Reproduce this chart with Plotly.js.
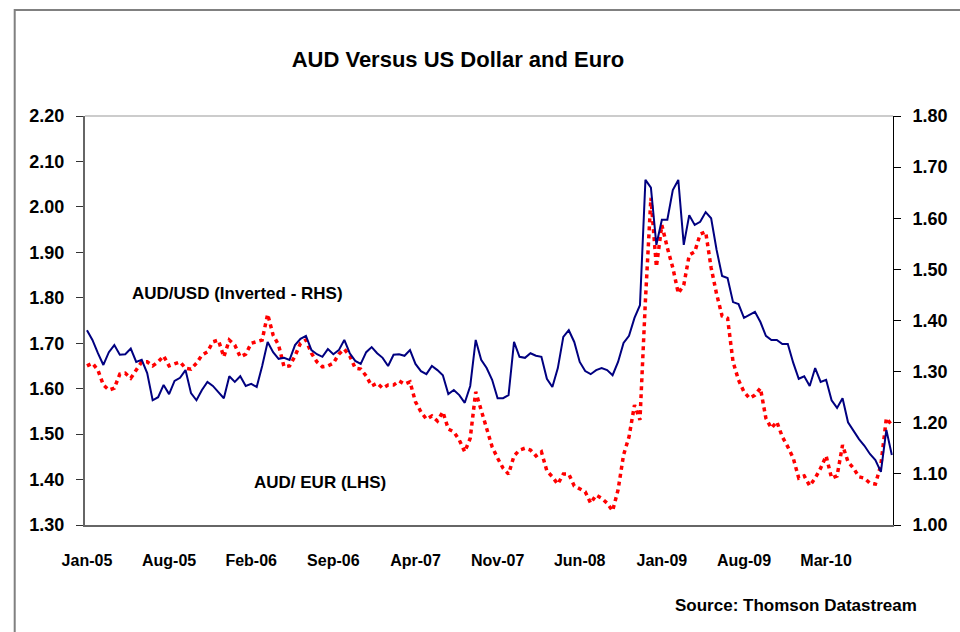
<!DOCTYPE html>
<html>
<head>
<meta charset="utf-8">
<script src="https://cdn.plot.ly/plotly-3.0.1.min.js"></script>
<style>
  html, body { margin: 0; padding: 0; background: #fff; }
  #chart { width: 960px; height: 632px; }
</style>
</head>
<body>
<div id="chart"></div>
<script>
// Sampled every 14 days from the first observation
const startDate = '2005-01-03';
const stepDays = 14;

// AUD/USD inverted (right axis)
const audUsdInverted = [
    1.381, 1.362, 1.336, 1.313, 1.338, 1.352, 1.333, 1.334, 1.345, 1.319,
    1.323, 1.297, 1.244, 1.250, 1.274, 1.256, 1.282, 1.288, 1.303, 1.258,
    1.244, 1.264, 1.280, 1.272, 1.260, 1.248, 1.291, 1.280, 1.291, 1.272,
    1.276, 1.270, 1.311, 1.358, 1.338, 1.325, 1.327, 1.323, 1.352, 1.364,
    1.370, 1.342, 1.334, 1.329, 1.344, 1.334, 1.342, 1.362, 1.336, 1.321,
    1.315, 1.338, 1.348, 1.336, 1.327, 1.311, 1.333, 1.334, 1.331, 1.342,
    1.315, 1.301, 1.295, 1.311, 1.303, 1.293, 1.256, 1.264, 1.254, 1.239,
    1.272, 1.362, 1.323, 1.307, 1.284, 1.248, 1.248, 1.254, 1.358, 1.329,
    1.327, 1.336, 1.331, 1.329, 1.286, 1.270, 1.307, 1.368, 1.381, 1.358,
    1.319, 1.301, 1.295, 1.303, 1.307, 1.303, 1.293, 1.319, 1.356, 1.370,
    1.405, 1.430, 1.675, 1.660, 1.548, 1.597, 1.597, 1.655, 1.675, 1.548,
    1.606, 1.587, 1.593, 1.612, 1.600, 1.538, 1.487, 1.483, 1.436, 1.432,
    1.405, 1.411, 1.417, 1.397, 1.370, 1.362, 1.362, 1.354, 1.354, 1.317,
    1.286, 1.291, 1.272, 1.307, 1.280, 1.284, 1.244, 1.229, 1.248, 1.201,
    1.184, 1.168, 1.155, 1.139, 1.127, 1.104, 1.186, 1.137
];

// AUD per EUR (left axis)
const audEur = [
    1.650, 1.656, 1.641, 1.608, 1.597, 1.601, 1.632, 1.634, 1.623, 1.641,
    1.659, 1.659, 1.650, 1.659, 1.672, 1.650, 1.654, 1.659, 1.645, 1.643,
    1.656, 1.674, 1.681, 1.703, 1.707, 1.670, 1.707, 1.696, 1.670, 1.676,
    1.700, 1.703, 1.707, 1.764, 1.718, 1.696, 1.648, 1.650, 1.672, 1.700,
    1.707, 1.678, 1.659, 1.648, 1.650, 1.656, 1.676, 1.687, 1.672, 1.645,
    1.643, 1.628, 1.606, 1.612, 1.601, 1.608, 1.608, 1.617, 1.610, 1.615,
    1.571, 1.549, 1.533, 1.540, 1.529, 1.549, 1.511, 1.505, 1.487, 1.461,
    1.491, 1.593, 1.553, 1.518, 1.472, 1.447, 1.425, 1.412, 1.452, 1.465,
    1.469, 1.465, 1.452, 1.461, 1.419, 1.406, 1.390, 1.412, 1.412, 1.386,
    1.379, 1.373, 1.348, 1.366, 1.359, 1.348, 1.331, 1.377, 1.454, 1.494,
    1.564, 1.531, 1.795, 2.020, 1.868, 1.960, 1.910, 1.866, 1.810, 1.828,
    1.894, 1.901, 1.940, 1.945, 1.866, 1.808, 1.760, 1.755, 1.659, 1.619,
    1.593, 1.579, 1.586, 1.601, 1.535, 1.513, 1.527, 1.494, 1.472, 1.447,
    1.403, 1.408, 1.386, 1.403, 1.425, 1.452, 1.403, 1.408, 1.476, 1.439,
    1.425, 1.406, 1.403, 1.392, 1.390, 1.432, 1.535, 1.520
];

// x-axis labels
const tickDates = ['2005-01-03', '2005-08-01', '2006-02-27', '2006-09-25', '2007-04-23',
                   '2007-11-19', '2008-06-16', '2009-01-12', '2009-08-10', '2010-03-08'];
const tickLabels = ['Jan-05', 'Aug-05', 'Feb-06', 'Sep-06', 'Apr-07',
                    'Nov-07', 'Jun-08', 'Jan-09', 'Aug-09', 'Mar-10'];

const t0 = Date.parse(startDate + 'T00:00:00Z');
const dates = audEur.map((_, i) => new Date(t0 + i * stepDays * 86400000).toISOString().slice(0, 10));

const FONT = 'Liberation Sans, Arial, sans-serif';

const data = [
    {
        x: dates,
        y: audUsdInverted,
        yaxis: 'y2',
        type: 'scatter',
        mode: 'lines',
        line: { color: '#000080', width: 2 },
        hoverinfo: 'skip'
    },
    {
        x: dates,
        y: audEur,
        type: 'scatter',
        mode: 'lines',
        line: { color: '#ff0000', width: 3.5, dash: '4px,4px' },
        hoverinfo: 'skip'
    }
];

const layout = {
    width: 960,
    height: 632,
    showlegend: false,
    paper_bgcolor: '#ffffff',
    plot_bgcolor: '#ffffff',
    font: { family: FONT, color: '#000000' },
    margin: { l: 85, r: 67, t: 116, b: 107 },
    title: {
        text: '<b>AUD Versus US Dollar and Euro</b>',
        font: { family: FONT, size: 22, color: '#000000' },
        xref: 'container', x: 0.477, xanchor: 'center',
        yref: 'container', y: 0.906, yanchor: 'middle'
    },
    xaxis: {
        type: 'date',
        range: ['2004-12-29', '2010-08-26'],
        tickmode: 'array',
        tickvals: tickDates,
        ticktext: tickLabels,
        ticks: '',
        showgrid: false,
        zeroline: false,
        showline: true,
        linecolor: '#666666',
        linewidth: 2,
        ticklabelstandoff: 20,
        tickfont: { family: FONT, size: 16, color: '#000000', weight: 'bold' }
    },
    yaxis: {
        range: [1.30, 2.20],
        dtick: 0.1,
        tickformat: '.2f',
        ticks: 'outside',
        ticklen: 7,
        tickcolor: '#333333',
        showgrid: false,
        zeroline: false,
        showline: true,
        linecolor: '#666666',
        linewidth: 2,
        ticklabelstandoff: 8,
        tickfont: { family: FONT, size: 18, color: '#000000', weight: 'bold' }
    },
    yaxis2: {
        range: [1.00, 1.80],
        dtick: 0.1,
        tickformat: '.2f',
        overlaying: 'y',
        side: 'right',
        ticks: 'outside',
        ticklen: 7,
        tickcolor: '#000000',
        showgrid: false,
        zeroline: false,
        showline: true,
        linecolor: '#000000',
        linewidth: 1,
        ticklabelstandoff: 8,
        tickfont: { family: FONT, size: 18, color: '#000000', weight: 'bold' }
    },
    shapes: [
        // top edge of the plot area
        { type: 'line', xref: 'paper', yref: 'paper', x0: 0, x1: 1, y0: 1, y1: 1,
          line: { color: '#999999', width: 1 } },
        // outer chart frame
        { type: 'rect', xref: 'paper', yref: 'paper', x0: -0.087, x1: 1.5, y0: -1, y1: 1.259,
          line: { color: '#808080', width: 2 }, fillcolor: 'rgba(0,0,0,0)' }
    ],
    annotations: [
        { text: '<b>AUD/USD (Inverted - RHS)</b>', xref: 'paper', yref: 'paper',
          x: 0.189, y: 0.567, xanchor: 'center', yanchor: 'middle', showarrow: false,
          font: { family: FONT, size: 17, color: '#000000' } },
        { text: '<b>AUD/ EUR (LHS)</b>', xref: 'paper', yref: 'paper',
          x: 0.291, y: 0.105, xanchor: 'center', yanchor: 'middle', showarrow: false,
          font: { family: FONT, size: 17, color: '#000000' } },
        { text: '<b>Source: Thomson Datastream</b>', xref: 'paper', yref: 'paper',
          x: 0.880, y: -0.198, xanchor: 'center', yanchor: 'middle', showarrow: false,
          font: { family: FONT, size: 17, color: '#000000' } }
    ]
};

Plotly.newPlot('chart', data, layout, { staticPlot: true, displayModeBar: false });
</script>
</body>
</html>
